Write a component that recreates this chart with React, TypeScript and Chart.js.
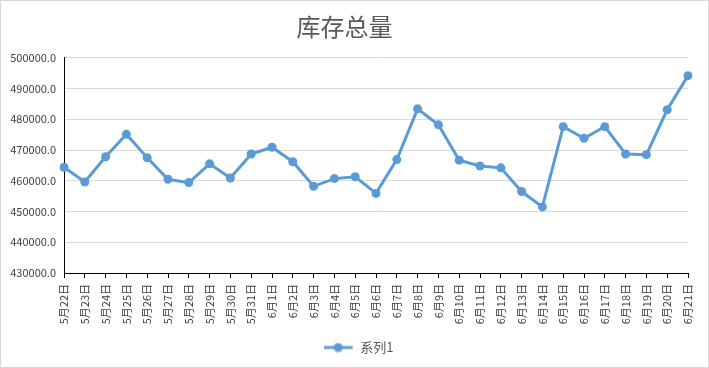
import React, { useEffect, useRef } from "react";
import { Chart, registerables } from "chart.js";

Chart.register(...registerables);

const TITLE = "库存总量";
const SERIES_NAME = "系列1";
const CATEGORIES = [
  "5月22日", "5月23日", "5月24日", "5月25日", "5月26日", "5月27日", "5月28日", "5月29日", "5月30日", "5月31日",
  "6月1日", "6月2日", "6月3日", "6月4日", "6月5日", "6月6日", "6月7日", "6月8日", "6月9日", "6月10日",
  "6月11日", "6月12日", "6月13日", "6月14日", "6月15日", "6月16日", "6月17日", "6月18日", "6月19日", "6月20日", "6月21日",
];
const VALUES = [
  464400, 459600, 467800, 475100, 467500, 460500, 459400, 465500, 460900, 468700,
  470900, 466200, 458200, 460700, 461300, 455900, 466900, 483400, 478200, 466700,
  464800, 464200, 456500, 451500, 477600, 473800, 477600, 468700, 468500, 483100, 494200,
];
const Y_MIN = 430000;
const Y_MAX = 500000;
const Y_STEP = 10000;

const BLUE = "#5B9BD5";
const FONT = "'Noto Sans CJK SC', 'Noto Sans', sans-serif";

function makeLegendMarker(): HTMLCanvasElement {
  const c = document.createElement("canvas");
  c.width = 30;
  c.height = 10;
  const ctx = c.getContext("2d")!;
  ctx.strokeStyle = BLUE;
  ctx.lineWidth = 3;
  ctx.beginPath();
  ctx.moveTo(0, 5);
  ctx.lineTo(29, 5);
  ctx.stroke();
  ctx.fillStyle = BLUE;
  ctx.beginPath();
  ctx.arc(14.5, 5, 4.5, 0, Math.PI * 2);
  ctx.fill();
  return c;
}

const legendShift = {
  id: "legendShift",
  afterLayout(chart: any) {
    const lg = chart.legend;
    if (lg) {
      lg.left += 14;
      lg.right += 14;
    }
  },
};

export default function App() {
  const ref = useRef<HTMLCanvasElement | null>(null);

  useEffect(() => {
    if (!ref.current) return;
    const marker = makeLegendMarker();
    const chart = new Chart(ref.current, {
      type: "line",
      data: {
        labels: CATEGORIES,
        datasets: [
          {
            label: SERIES_NAME,
            data: VALUES,
            borderColor: BLUE,
            backgroundColor: BLUE,
            borderWidth: 3,
            pointRadius: 4.5,
            pointBackgroundColor: BLUE,
            pointBorderColor: BLUE,
            pointBorderWidth: 0,
            tension: 0,
          },
        ],
      },
      plugins: [legendShift],
      options: {
        responsive: false,
        animation: false,
        devicePixelRatio: 1,
        layout: { padding: { left: 0, right: 20, top: 0, bottom: 3 } },
        plugins: {
          title: {
            display: true,
            text: TITLE,
            color: "#595959",
            font: { family: FONT, size: 24, weight: "normal", lineHeight: 1.2 },
            padding: { top: 11, bottom: 17 },
          },
          legend: {
            display: true,
            position: "bottom",
            labels: {
              usePointStyle: true,
              pointStyle: marker as any,
              pointStyleWidth: 30,
              boxHeight: 12,
              padding: 10,
              color: "#595959",
              font: { family: FONT, size: 13 },
            },
          },
          tooltip: { enabled: false },
        },
        scales: {
          x: {
            offset: false,
            afterFit: (scale: any) => {
              scale.height = 58;
            },
            grid: {
              display: true,
              drawOnChartArea: false,
              drawTicks: true,
              tickLength: 5,
              color: "#000000",
              offset: false,
            },
            border: { display: true, color: "#000000", width: 1 },
            ticks: {
              autoSkip: false,
              minRotation: 90,
              maxRotation: 90,
              padding: 6,
              color: "#404040",
              font: { family: FONT, size: 11 },
            },
          },
          y: {
            min: Y_MIN,
            max: Y_MAX,
            afterFit: (scale: any) => {
              scale.width = 63;
            },
            grid: {
              color: "#d9d9d9",
              drawTicks: false,
            },
            border: { display: true, color: "#000000", width: 1 },
            ticks: {
              stepSize: Y_STEP,
              padding: 8,
              color: "#404040",
              font: { family: FONT, size: 11 },
              callback: (v: any) => Number(v).toFixed(1),
            },
          },
        },
      },
    });
    return () => chart.destroy();
  }, []);

  return (
    <div
      style={{
        position: "fixed",
        left: 0,
        top: 0,
        width: 707,
        height: 366,
        border: "1px solid #d9d9d9",
        background: "#ffffff",
      }}
    >
      <canvas ref={ref} width={707} height={366} style={{ display: "block", width: 707, height: 366 }} />
    </div>
  );
}
